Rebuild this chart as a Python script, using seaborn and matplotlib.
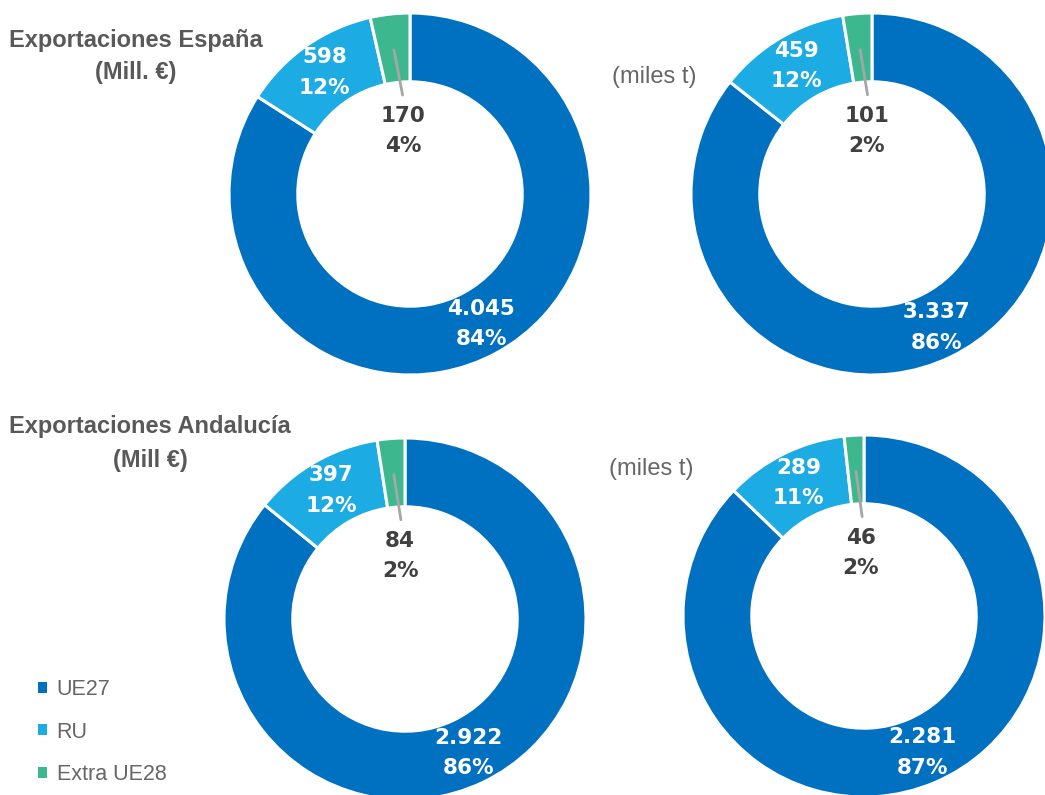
import numpy as np
import matplotlib
matplotlib.use("Agg")
import matplotlib.pyplot as plt
from matplotlib.patches import Patch
import seaborn as sns

sns.set_theme(style="white")
plt.rcParams["font.family"] = ["Liberation Sans Narrow", "Liberation Sans", "DejaVu Sans"]

# data
categories = ["UE27", "RU", "Extra UE28"]
esp_eur = [4045, 598, 170]
esp_eur_pct = [84, 12, 4]
esp_ton = [3337, 459, 101]
esp_ton_pct = [86, 12, 2]
and_eur = [2922, 397, 84]
and_eur_pct = [86, 12, 2]
and_ton = [2281, 289, 46]
and_ton_pct = [87, 11, 2]

colors = sns.color_palette(["#0070C0", "#1DABE3", "#3DB88E"])
W, H = 1045, 795
R = 181  # outer radius in px
LIM = 1.05


def fmt(v):
    return f"{v:,}".replace(",", ".")


def donut(cx, cy, values, pcts):
    # axes placed so that the pie of radius 1 has R px radius around (cx, cy)
    half = R * LIM
    ax = plt.gcf().add_axes([(cx - half) / W, (H - cy - half) / H,
                             2 * half / W, 2 * half / H])
    wedges, _ = ax.pie(values, colors=colors, startangle=90, counterclock=False,
                       radius=1, wedgeprops=dict(width=0.38, edgecolor="white", linewidth=2.2))
    ax.set_xlim(-LIM, LIM)
    ax.set_ylim(-LIM, LIM)
    ax.set_aspect("equal")
    ax.axis("off")
    for i, w in enumerate(wedges):
        mid = np.deg2rad((w.theta1 + w.theta2) / 2)
        txt = f"{fmt(values[i])}\n{pcts[i]}%"
        if i < 2:
            ax.text(0.82 * np.cos(mid), 0.82 * np.sin(mid), txt, color="white",
                    ha="center", va="center", fontsize=15.5, fontweight="bold",
                    family="DejaVu Sans", linespacing=1.65)
        else:
            ax.plot([0.80 * np.cos(mid), 0.55 * np.cos(mid) + 0.02],
                    [0.80 * np.sin(mid), 0.55 * np.sin(mid)],
                    color="#A6A6A6", lw=2, solid_capstyle="round")
            ax.text(0.35 * np.cos(mid), 0.35 * np.sin(mid), txt, color="#404040",
                    ha="center", va="center", fontsize=15.5, fontweight="bold",
                    family="DejaVu Sans", linespacing=1.65)
    return ax


fig = plt.figure(figsize=(W / 100, H / 100), dpi=100)

donut(410, 194, esp_eur, esp_eur_pct)
donut(872, 194, esp_ton, esp_ton_pct)
donut(405, 619, and_eur, and_eur_pct)
donut(864, 616, and_ton, and_ton_pct)

title_kw = dict(ha="center", va="center", fontsize=17, fontweight="bold", color="#595959")
fig.text(136 / W, 1 - 41 / H, "Exportaciones España", **title_kw)
fig.text(136 / W, 1 - 73 / H, "(Mill. €)", **title_kw)
fig.text(150 / W, 1 - 427 / H, "Exportaciones Andalucía", **title_kw)
fig.text(150 / W, 1 - 461 / H, "(Mill €)", **title_kw)

unit_kw = dict(ha="center", va="center", fontsize=17, color="#666666")
fig.text(654 / W, 1 - 77 / H, "(miles t)", **unit_kw)
fig.text(651 / W, 1 - 469 / H, "(miles t)", **unit_kw)

handles = [Patch(facecolor=c, edgecolor="none") for c in colors]
fig.legend(handles, categories, loc="upper left", bbox_to_anchor=(38 / W, 1 - 679 / H),
           frameon=False, fontsize=15.5, labelcolor="#666666",
           handlelength=0.42, handleheight=0.42, handletextpad=0.45,
           labelspacing=1.0, borderpad=0, borderaxespad=0)

fig.savefig("out.png", dpi=100)
